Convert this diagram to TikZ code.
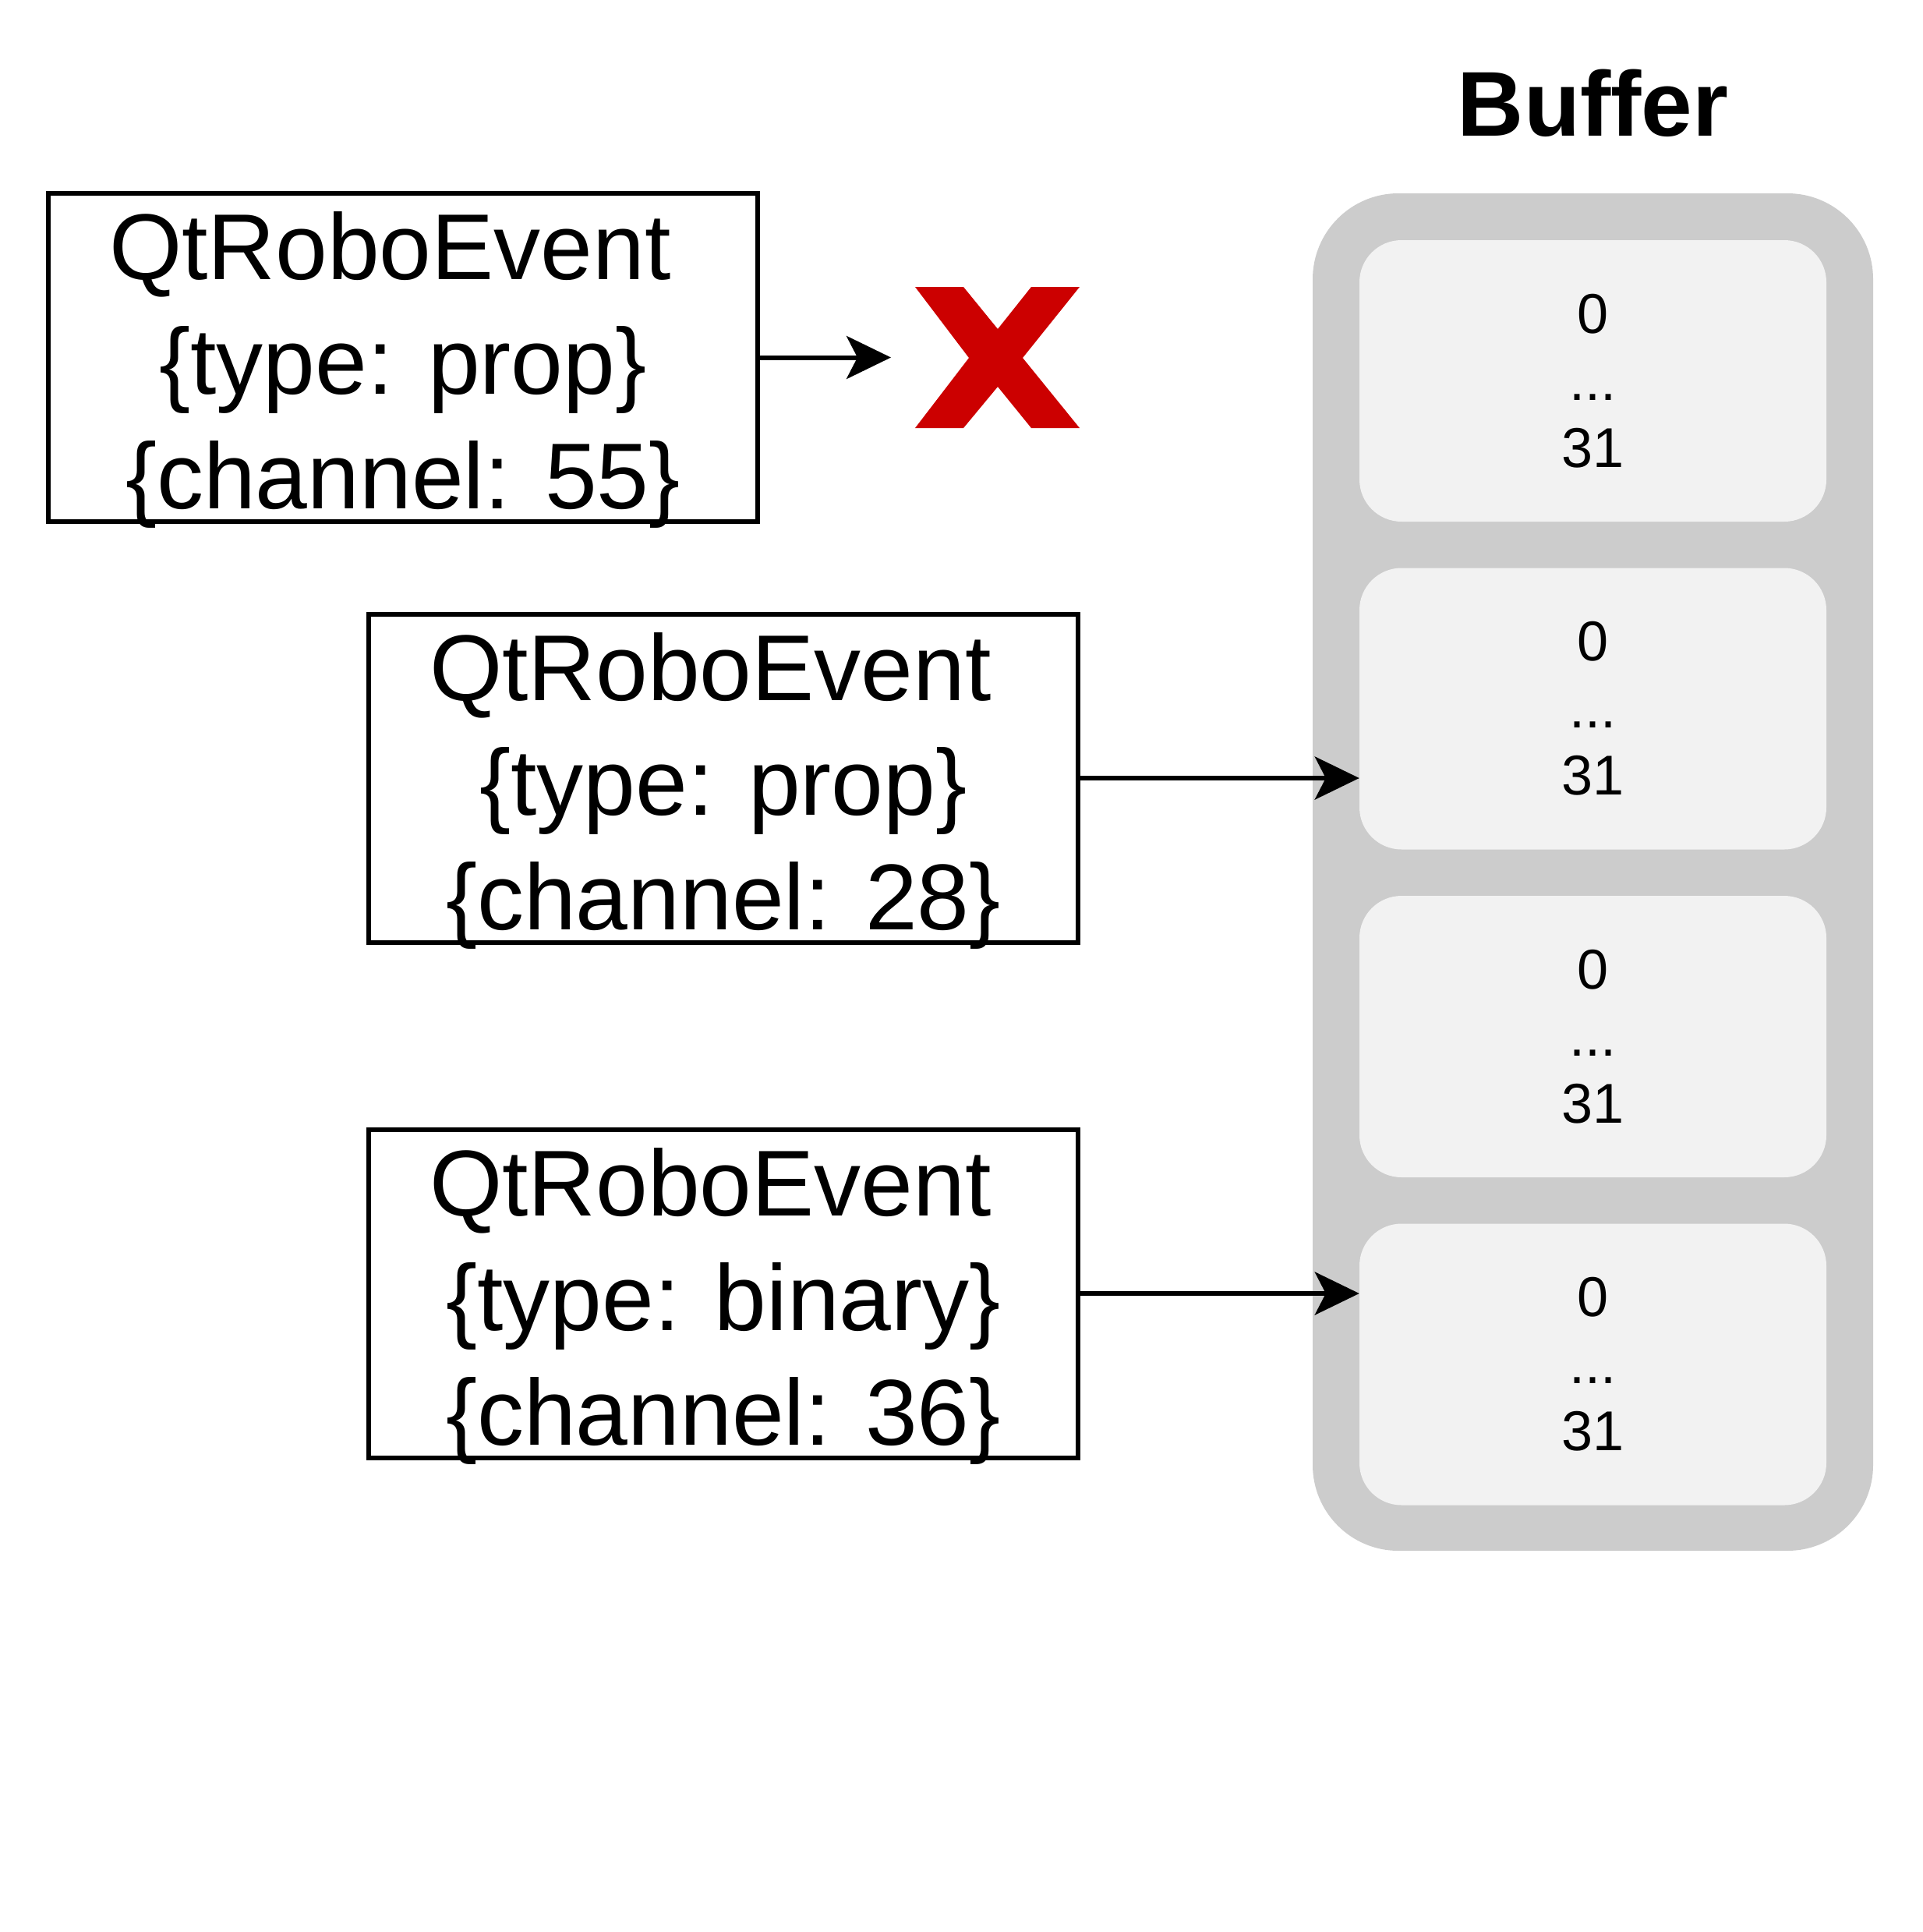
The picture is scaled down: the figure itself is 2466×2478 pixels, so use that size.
\documentclass[tikz,border=0pt]{standalone}
\usepackage{fontspec}
\setmainfont{Liberation Sans}
\usetikzlibrary{arrows.meta}
\definecolor{bufgray}{HTML}{CCCCCC}
\definecolor{cellgray}{HTML}{F2F2F2}
\definecolor{xred}{HTML}{CC0000}
\begin{document}
\begin{tikzpicture}[x=1pt,y=-1pt,
 evbox/.style={draw, line width=6pt, minimum width=910pt, minimum height=421pt, inner sep=0pt},
 evtext/.style={align=center, font=\fontsize{120}{147}\selectfont, inner sep=0pt, yshift=-16pt},
 bufbox/.style={fill=bufgray, rounded corners=110pt, minimum width=719pt, minimum height=1741pt, inner sep=0pt},
 cell/.style={fill=cellgray, rounded corners=54pt, minimum width=599pt, minimum height=361pt, inner sep=0pt, align=center, font=\fontsize{72}{86}\selectfont},
 arr/.style={line width=6pt, -{Stealth[length=57pt,width=55pt,inset=14pt]}}]
\useasboundingbox (0,0) rectangle (2466,2478);
% event boxes
\node[evbox] (b1) at (517,458.5) {};
\node[evtext] (t1) at (b1.center) {QtRoboEvent\hspace*{0.278em}\\\{type: prop\}\\\{channel: 55\}};
\node[evbox] (b2) at (928,998) {};
\node[evtext] (t2) at (b2.center) {QtRoboEvent\hspace*{0.278em}\\\{type: prop\}\\\{channel: 28\}};
\node[evbox] (b3) at (928,1659) {};
\node[evtext] (t3) at (b3.center) {QtRoboEvent\hspace*{0.278em}\\\{type: binary\}\\\{channel: 36\}};
% buffer
\node[font=\bfseries\fontsize{118}{140}\selectfont, anchor=base, inner sep=0pt] (title) at (2043.5,174) {Buffer};
\node[bufbox] (buf) at (2043.5,1118.5) {};
\node[cell] (c1) at (2043.5,488.5) {0\\...\\31};
\node[cell] (c2) at (2043.5,909) {0\\...\\31};
\node[cell] (c3) at (2043.5,1329.5) {0\\...\\31};
\node[cell] (c4) at (2043.5,1750) {0\\...\\31};
% red X
\fill[xred] (1174,368) -- (1236,368) -- (1280,422) -- (1323,368) -- (1385,368) -- (1312,459)
  -- (1385,549) -- (1323,549) -- (1280,496) -- (1236,549) -- (1174,549) -- (1243,459) -- cycle;
% arrows
\coordinate (x1end) at (1143,458.5);
\draw[arr] (b1.east) -- (x1end);
\draw[arr] (b2.east) -- (b2.east -| c2.west);
\draw[arr] (b3.east) -- (b3.east -| c4.west);
\end{tikzpicture}
\end{document}
